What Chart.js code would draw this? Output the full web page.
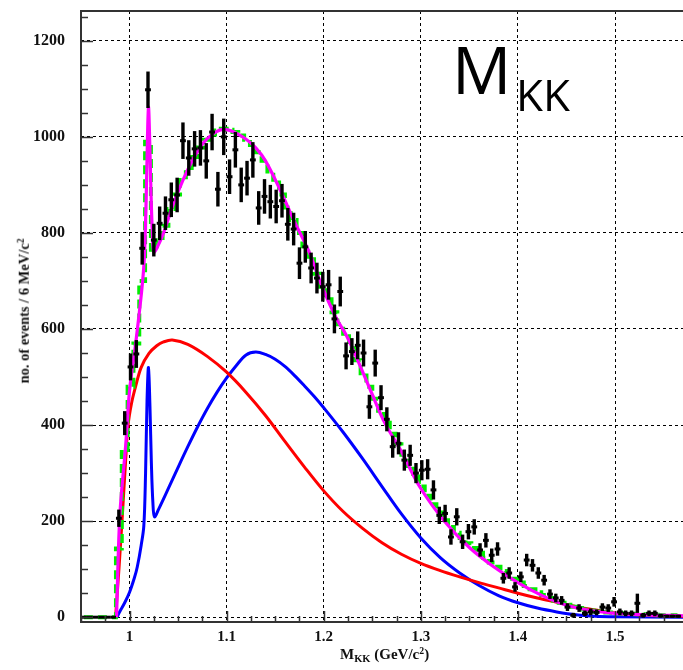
<!DOCTYPE html>
<html>
<head>
<meta charset="utf-8">
<script src="https://cdn.jsdelivr.net/npm/chart.js@4.4.1/dist/chart.umd.min.js"></script>
<style>
html,body{margin:0;padding:0;background:#fff;}
#wrap{position:relative;width:683px;height:670px;overflow:hidden;}
#c{position:absolute;left:0;top:0;}
.lbl{position:absolute;font-family:'Liberation Serif','Times New Roman',serif;font-weight:bold;color:#111;white-space:nowrap;line-height:1;}
.lbl sub{font-size:70%;line-height:0;vertical-align:-0.3em;}
.lbl sup{font-size:65%;line-height:0;vertical-align:0.55em;}
#xt{left:340px;top:647px;font-size:15px;}
#yt{left:24px;top:311px;font-size:14.5px;transform:translate(-50%,-50%) rotate(-90deg);}
.tt{position:absolute;font-family:'Open Sans','Noto Sans',sans-serif;color:#000;line-height:1;white-space:nowrap;}
#t1{left:452px;top:35px;font-size:66px;}
#t2{left:516px;top:72px;font-size:44px;}
</style>
</head>
<body>
<div id="wrap">
<canvas id="c" width="683" height="670"></canvas>
<div class="lbl" id="xt">M<sub>KK</sub> (GeV/c<sup>2</sup>)</div>
<div class="lbl" id="yt">no. of events / 6 MeV/c<sup>2</sup></div>
<div class="tt" id="t1">M</div>
<div class="tt" id="t2">KK</div>
</div>
<script>
// ---- data ----
const binStart = 0.953;      // centre of first 6 MeV bin
const binWidth = 0.006;
const zeroBins = [0, 0, 0, 0, 0, 0];   // bins below KK threshold
const counts = [
  206,404,521,548,768,1098,785,820,841,869,
  879,992,956,975,977,950,1010,891,1000,917,
  973,900,914,952,852,876,865,855,867,818,
  808,737,771,727,706,688,692,621,678,544,
  553,566,550,438,529,457,412,355,362,327,
  337,300,306,308,265,212,216,167,209,157,
  178,188,140,160,129,142,81,92,63,84,
  119,108,92,77,48,40,35,21,4,19,
  8,11,10,21,19,32,11,8,8,29,
  4,8,8,3,2,2,2
];
const errors = [
  18,25,28,29,34,38,34,35,35,36,
  36,38,37,37,37,37,38,36,38,36,
  37,36,36,37,35,36,35,35,35,34,
  34,33,33,32,32,31,31,30,31,28,
  28,29,28,25,28,26,25,23,23,22,
  22,21,21,21,20,18,18,16,18,15,
  16,16,14,15,14,14,11,12,10,11,
  13,13,12,11,10,9,9,8,5,8,
  6,7,6,8,8,10,7,6,6,20,
  5,6,6,4,3,3,3
];
const fitHist = [
  143,348,480,570,700,990,765,785,815,850,
  880,910,935,958,978,994,1005,1013,1017,1015,
  1010,1003,994,983,968,950,928,905,880,853,
  827,800,772,745,715,688,662,635,610,585,
  560,535,508,480,455,430,405,382,360,338,
  315,293,272,253,235,218,202,188,176,165,
  154,144,134,124,114,105,96,88,80,72,
  65,58,52,46,40,35,30,26,22,19,
  16,14,12,11,10,9,8,7,7,6,
  6,5,5,4,4,4,3
];
const redX = [0.9856,0.989,0.9925,0.996,0.9985,1.002,1.0062,1.012,1.020,1.028,1.035,1.044,1.060,1.080,1.100,1.120,1.140,1.160,1.180,1.200,1.220,1.240,1.260,1.280,1.300,1.320,1.340,1.360,1.380,1.400,1.420,1.440,1.460,1.480,1.500,1.530,1.570];
const redY = [0,98,209,327,400,445,480,520,549,565,573,577,568,543,510,468,420,366,313,263,220,185,155,131,112,97,84,72,61,50,40,31,22,15,9,4,2];
const blueX = [0.987,0.990,0.995,1.000,1.005,1.008,1.012,1.0147,1.0165,1.018,1.0195,1.021,1.0225,1.024,1.0257,1.030,1.040,1.050,1.060,1.070,1.080,1.090,1.100,1.110,1.120,1.130,1.140,1.150,1.160,1.170,1.180,1.190,1.200,1.220,1.240,1.260,1.280,1.300,1.320,1.340,1.360,1.380,1.400,1.420,1.440,1.460,1.480,1.500,1.570];
const blueY = [0,12,30,52,82,105,150,190,300,450,520,440,320,240,209,225,268,312,355,396,434,468,498,524,546,552,547,537,522,503,482,460,436,385,330,272,215,165,124,92,66,45,30,19,11,5,2,1,0];
const totX = [0.9866,0.990,0.996,1.000,1.006,1.012,1.015,1.017,1.0185,1.0195,1.0205,1.022,1.0235,1.025,1.028,1.035,1.045,1.055,1.065,1.075,1.085,1.095,1.105,1.120,1.130,1.140,1.155,1.169,1.185,1.197,1.212,1.224,1.236,1.248,1.263,1.280,1.299,1.325,1.350,1.375,1.400,1.425,1.450,1.475,1.500,1.530,1.570];
const totY = [0,212,357,472,565,670,740,860,1000,1062,1010,890,800,760,768,800,860,910,952,985,1005,1015,1012,995,977,950,890,827,760,695,626,584,530,473,404,345,271,198,145,105,72,45,25,14,8,5,3];
const xTicksMajor = [1.0, 1.1, 1.2, 1.3, 1.4, 1.5];
const yTicksMajor = [0, 200, 400, 600, 800, 1000, 1200];

// ---- build library structures ----
const allCounts = zeroBins.concat(counts);
const allErrors = zeroBins.concat(errors);
const allFit = zeroBins.concat(fitHist);
const centers = allCounts.map((_, i) => +(binStart + i * binWidth).toFixed(4));
const pts = (xs, ys) => xs.map((x, i) => ({x: x, y: ys[i]}));

const dataPts = centers.map((x, i) => ({x: x, y: allCounts[i], e: allErrors[i]}));
const fitPts = centers.map((x, i) => ({x: x, y: allFit[i]}));

const errPlugin = {
  id: 'errbars',
  afterDatasetsDraw(chart) {
    const ctx = chart.ctx, a = chart.chartArea;
    const xs = chart.scales.x, ys = chart.scales.y;
    const meta = chart.getDatasetMeta(0);
    ctx.save();
    ctx.beginPath(); ctx.rect(a.left, a.top - 5, a.right - a.left, a.bottom - a.top + 5); ctx.clip();
    ctx.strokeStyle = '#000';
    meta.data.forEach((el, i) => {
      const d = dataPts[i];
      const half = (xs.getPixelForValue(d.x + binWidth / 2) - xs.getPixelForValue(d.x - binWidth / 2)) / 2;
      ctx.lineWidth = 3;
      ctx.beginPath();
      ctx.moveTo(el.x - half, el.y); ctx.lineTo(el.x + half, el.y);
      ctx.stroke();
      if (d.e > 0) {
        ctx.lineWidth = 3.4;
        ctx.beginPath();
        ctx.moveTo(el.x, ys.getPixelForValue(d.y - d.e));
        ctx.lineTo(el.x, ys.getPixelForValue(d.y + d.e));
        ctx.stroke();
      }
    });
    ctx.restore();
  }
};

const framePlugin = {
  id: 'frame',
  afterDraw(chart) {
    const ctx = chart.ctx, a = chart.chartArea;
    const xs = chart.scales.x, ys = chart.scales.y;
    ctx.save();
    ctx.strokeStyle = '#333';
    ctx.lineWidth = 1.5;
    const x0 = Math.ceil(xs.min / 0.025 - 1e-6);
    const x1 = Math.floor(xs.max / 0.025 + 1e-6);
    for (let k = x0; k <= x1; k++) {
      const v = k * 0.025;
      const major = xTicksMajor.some(t => Math.abs(t - v) < 1e-6);
      const p = Math.round(xs.getPixelForValue(v)) + 0.5;
      ctx.beginPath(); ctx.moveTo(p, a.bottom); ctx.lineTo(p, a.bottom - (major ? 11 : 6)); ctx.stroke();
    }
    const y0 = Math.ceil(ys.min / 50 - 1e-6);
    const y1 = Math.floor(ys.max / 50 + 1e-6);
    for (let k = y0; k <= y1; k++) {
      const v = k * 50;
      const major = yTicksMajor.includes(v);
      const p = Math.round(ys.getPixelForValue(v)) + 0.5;
      ctx.beginPath(); ctx.moveTo(a.left, p); ctx.lineTo(a.left + (major ? 12 : 7), p); ctx.stroke();
    }
    ctx.lineWidth = 2;
    ctx.beginPath();
    ctx.moveTo(a.right, a.top); ctx.lineTo(a.left, a.top); ctx.lineTo(a.left, a.bottom); ctx.lineTo(a.right, a.bottom);
    ctx.stroke();
    ctx.restore();
  }
};

const tickFont = {family: "'Liberation Serif','Times New Roman',serif", weight: 'bold'};

new Chart(document.getElementById('c'), {
  type: 'scatter',
  data: {
    datasets: [
      {label: 'data', type: 'scatter', data: dataPts, pointRadius: 0, pointHoverRadius: 0, showLine: false},
      {label: 'total', type: 'line', data: pts(totX, totY), borderColor: '#ff00ff', borderWidth: 3.2,
       pointRadius: 0, fill: false, tension: 0.35},
      {label: 'fit histogram', type: 'line', data: fitPts, borderColor: '#00ee00', borderWidth: 4,
       borderDash: [9, 5], pointRadius: 0, fill: false, stepped: 'middle'},
      {label: 'red', type: 'line', data: pts(redX, redY), borderColor: '#ff0000', borderWidth: 3,
       pointRadius: 0, fill: false, tension: 0.35},
      {label: 'blue', type: 'line', data: pts(blueX, blueY), borderColor: '#0000ff', borderWidth: 3,
       pointRadius: 0, fill: false, tension: 0.35}
    ]
  },
  options: {
    responsive: false,
    animation: false,
    devicePixelRatio: 1,
    layout: {padding: {top: 11, left: 0, right: 0, bottom: 0}},
    plugins: {legend: {display: false}, tooltip: {enabled: false}},
    scales: {
      x: {
        type: 'linear', min: 0.95, max: 1.57,
        afterFit(s) { s.height = 48; s.paddingLeft = 0; s.paddingRight = 0; },
        ticks: {stepSize: 0.1, includeBounds: false, padding: 6, color: '#111',
                font: Object.assign({size: 15}, tickFont),
                callback: v => (Math.round(v * 10) / 10).toString()},
        grid: {color: '#000', lineWidth: 1, drawTicks: false},
        border: {display: false, dash: [3, 3]}
      },
      y: {
        type: 'linear', min: -10, max: 1262,
        afterFit(s) { s.width = 81; s.paddingTop = 0; s.paddingBottom = 0; },
        ticks: {stepSize: 200, includeBounds: false, padding: 16, color: '#111',
                font: Object.assign({size: 16}, tickFont),
                callback: v => String(Math.round(v))},
        grid: {color: '#000', lineWidth: 1, drawTicks: false},
        border: {display: false, dash: [3, 3]}
      }
    }
  },
  plugins: [errPlugin, framePlugin]
});
</script>
</body>
</html>
